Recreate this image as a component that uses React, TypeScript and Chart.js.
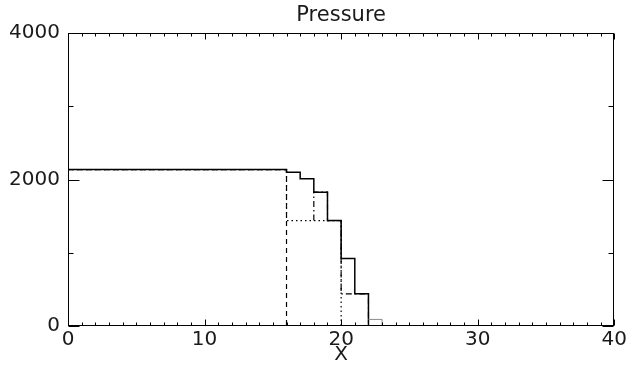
import React, { useEffect, useRef } from "react";
import { Chart, registerables } from "chart.js";

Chart.register(...registerables);

const TITLE = "Pressure";
const X_TITLE = "X";
const X_MIN = 0;
const X_MAX = 40;
const X_MAJOR = 10;
const X_MINOR = 1;
const Y_MIN = 0;
const Y_MAX = 4000;
const Y_MAJOR = 2000;
const Y_MINOR = 1000;

// step series: each value holds from its x until the next x
const solidX = [0, 16, 17, 18, 19, 20, 21, 22, 40];
const solidY = [2137, 2100, 2010, 1828, 1440, 923, 440, 0, 0];
const tailX = [22, 23];
const tailY = [90, 0];
const dashedX = [0, 16, 40];
const dashedY = [2137, 0, 0];
const dottedX = [0, 16, 20, 40];
const dottedY = [2137, 1440, 0, 0];
const dashDotX = [18, 18, 19, 20, 22, 40];
const dashDotY = [1440, 1828, 1440, 440, 0, 0];

const pts = (xs: number[], ys: number[]) => xs.map((x, i) => ({ x, y: ys[i] }));

const FONT = "'DejaVu Sans', sans-serif";
const TEXT = "#1a1a1a";

const framePlugin = {
  id: "frame",
  afterDatasetsDraw(chart: any) {
    const { ctx, chartArea: a, scales } = chart;
    const xs = scales.x;
    const ys = scales.y;
    const L = Math.round(a.left) + 0.5;
    const R = Math.round(a.right) - 0.5;
    const T = Math.round(a.top) + 0.5;
    const B = Math.round(a.bottom) - 0.5;
    ctx.save();
    ctx.strokeStyle = "#000";
    ctx.lineWidth = 1;
    ctx.strokeRect(L, T, R - L, B - T);
    ctx.beginPath();
    for (let v = X_MIN; v <= X_MAX; v += X_MINOR) {
      const p = Math.round(xs.getPixelForValue(v)) + 0.5;
      const len = v % X_MAJOR === 0 ? 6 : 3;
      ctx.moveTo(p, B);
      ctx.lineTo(p, B - len);
      ctx.moveTo(p, T);
      ctx.lineTo(p, T + len);
    }
    for (let v = Y_MIN; v <= Y_MAX; v += Y_MINOR) {
      const p = Math.round(ys.getPixelForValue(v)) + 0.5;
      const len = v % Y_MAJOR === 0 ? 11 : 5;
      ctx.moveTo(L, p);
      ctx.lineTo(L + len, p);
      ctx.moveTo(R, p);
      ctx.lineTo(R - len, p);
    }
    ctx.stroke();
    ctx.restore();
  },
};

export default function App() {
  const ref = useRef<HTMLCanvasElement | null>(null);

  useEffect(() => {
    if (!ref.current) return;
    const common = { pointRadius: 0, stepped: true as const, fill: false };
    const chart = new Chart(ref.current, {
      type: "line",
      data: {
        datasets: [
          { ...common, label: "a", data: pts(tailX, tailY), borderColor: "#8a8a8a", borderWidth: 1 },
          { ...common, label: "b", data: pts(dashedX, dashedY), borderColor: "#000", borderWidth: 1.2, borderDash: [5, 4] },
          { ...common, label: "c", data: pts(dottedX, dottedY), borderColor: "#000", borderWidth: 1.2, borderDash: [1.5, 3] },
          { ...common, label: "d", data: pts(dashDotX, dashDotY), borderColor: "#000", borderWidth: 1.2, borderDash: [6, 3, 1.5, 3] },
          { ...common, label: "e", data: pts(solidX, solidY), borderColor: "#000", borderWidth: 1.5 },
        ],
      },
      options: {
        animation: false,
        responsive: false,
        layout: { padding: { left: 0, right: 14, top: 0, bottom: 0 } },
        plugins: {
          legend: { display: false },
          tooltip: { enabled: false },
          title: {
            display: true,
            text: TITLE,
            fullSize: false,
            color: TEXT,
            font: { family: FONT, size: 21, weight: "normal" },
            padding: { top: 3, bottom: 5 },
          },
        },
        scales: {
          x: {
            type: "linear",
            min: X_MIN,
            max: X_MAX,
            grid: { display: false, drawTicks: false },
            border: { display: false },
            ticks: {
              stepSize: X_MAJOR,
              color: TEXT,
              font: { family: FONT, size: 20 },
              padding: 2,
              maxRotation: 0,
              autoSkip: false,
              callback: (v: any) => String(v),
            },
            title: {
              display: true,
              text: X_TITLE,
              color: TEXT,
              font: { family: FONT, size: 20 },
              padding: { top: 0, bottom: 3 },
            },
            afterFit: (s: any) => {
              s.height = 44;
            },
          },
          y: {
            type: "linear",
            min: Y_MIN,
            max: Y_MAX,
            grid: { display: false, drawTicks: false },
            border: { display: false },
            ticks: {
              stepSize: Y_MAJOR,
              color: TEXT,
              font: { family: FONT, size: 20 },
              padding: 8,
              callback: (v: any) => String(v),
            },
            afterFit: (s: any) => {
              s.width = 68;
            },
          },
        },
      },
      plugins: [framePlugin],
    });
    return () => chart.destroy();
  }, []);

  return (
    <div style={{ position: "absolute", left: 0, top: 0, width: 629, height: 370, background: "#fff" }}>
      <canvas ref={ref} width={629} height={370} />
    </div>
  );
}
